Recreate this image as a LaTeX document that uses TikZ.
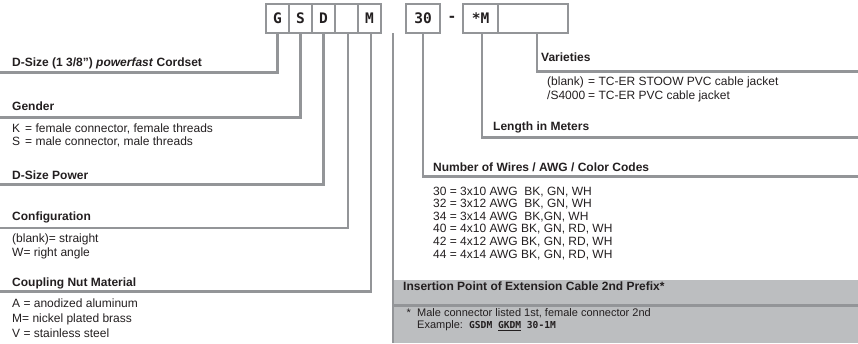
\documentclass[tikz,border=0pt]{standalone}
\usepackage{fontspec}
\setmainfont{Liberation Sans}
\newfontfamily\codefont{DejaVu Sans Mono}
\definecolor{rulegrey}{HTML}{939598}
\definecolor{bandgrey}{HTML}{BCBEC0}
\definecolor{inkgrey}{HTML}{231F20}
\tikzset{
  rule/.style={draw=rulegrey, line width=2.7pt},
  codebox/.style={draw=rulegrey, line width=2.7pt, minimum height=29pt, inner sep=0pt,
    font=\codefont\bfseries\fontsize{14.5}{14.5}\selectfont, text=inkgrey},
  head/.style={anchor=base west, inner sep=0pt, font=\bfseries\fontsize{12}{12}\selectfont, text=inkgrey},
  body/.style={anchor=base west, inner sep=0pt, font=\fontsize{12}{12}\selectfont, text=inkgrey},
  note/.style={anchor=base west, inner sep=0pt, font=\fontsize{11}{11}\selectfont, text=inkgrey},
}
\newcommand{\exmono}[1]{{\codefont\bfseries\fontsize{9.6}{9.6}\selectfont #1}}
\begin{document}
\begin{tikzpicture}[x=1pt,y=-1pt]
\useasboundingbox (0,0) rectangle (858,343);

% grey band of the insertion point
\fill[bandgrey] (392,280) rectangle (858,343);
\draw[rule] (392,305.5) -- (858,305.5);

% code boxes
\node[codebox, minimum width=23pt] (cG) at (277.5,18.5) {G};
\node[codebox, minimum width=23pt] (cS) at (300.5,18.5) {S};
\node[codebox, minimum width=23pt] (cD) at (323.5,18.5) {D};
\node[codebox, minimum width=23pt] (cB) at (346.5,18.5) {};
\node[codebox, minimum width=23pt] (cM) at (369.5,18.5) {M};
\node[codebox, minimum width=34pt] (c30) at (423,18.5) {30};
\node[inner sep=0pt, font=\codefont\bfseries\fontsize{14.5}{14.5}\selectfont, text=inkgrey] (dash) at (452,18.5) {-};
\node[codebox, minimum width=35pt] (cLen) at (480.5,18.5) {*M};
\node[codebox, minimum width=70pt] (cVar) at (533,18.5) {};

% ends of the leaders
\coordinate (eG) at (0,72.3);
\coordinate (eS) at (0,117.3);
\coordinate (eD) at (0,184.7);
\coordinate (eB) at (0,228);
\coordinate (eM) at (0,291.7);
\coordinate (eN) at (858,176.3);
\coordinate (eL) at (858,137.7);
\coordinate (eV) at (858,71.3);
\coordinate (ins) at (393,33);
\coordinate (insEnd) at (393,343);

% leaders
\draw[rule] (cG.south) |- (eG);
\draw[rule] (cS.south) |- (eS);
\draw[rule] (cD.south) |- (eD);
\draw[rule] ([xshift=1.5pt]cB.south) |- (eB);
\draw[rule] ([xshift=1.5pt]cM.south) |- (eM);
\draw[rule] (ins) -- (insEnd);
\draw[rule] (c30.south) |- (eN);
\draw[rule] ([xshift=1.5pt]cLen.south) |- (eL);
\draw[rule] ([xshift=4pt]cVar.south) |- (eV);

% left column
\node[head] (tCord) at (12,66.5) {D-Size (1 3/8") \textit{powerfast} Cordset};
\node[head] (tGen) at (12,110.5) {Gender};
\node[body] (tK) at (12,132.7) {\makebox[13pt][l]{K}= female connector, female threads};
\node[body] (tS) at (12,145.7) {\makebox[13pt][l]{S}= male connector, male threads};
\node[head] (tPow) at (12,179.3) {D-Size Power};
\node[head] (tConf) at (12,220.5) {Configuration};
\node[body] (tStr) at (12,242.7) {(blank)= straight};
\node[body] (tRa) at (12,256) {W= right angle};
\node[head] (tNut) at (12,286.7) {Coupling Nut Material};
\node[body] (tA) at (12,307.3) {A = anodized aluminum};
\node[body] (tMb) at (12,322.3) {M= nickel plated brass};
\node[body] (tV) at (12,337.3) {V = stainless steel};

% right column
\node[head] (tVar) at (541,61.7) {Varieties};
\node[body] (tJk) at (547,85) {\makebox[41pt][l]{(blank)}= TC-ER STOOW PVC cable jacket};
\node[body] (tJs) at (547,99.3) {\makebox[41pt][l]{/S4000}= TC-ER PVC cable jacket};
\node[head] (tLen) at (493,130.7) {Length in Meters};
\node[head] (tWir) at (433,171) {Number of Wires / AWG / Color Codes};
\node[body] (w30) at (433,195) {30 = 3x10 AWG\ \ BK, GN, WH};
\node[body] (w32) at (433,207.7) {32 = 3x12 AWG\ \ BK, GN, WH};
\node[body] (w34) at (433,220.3) {34 = 3x14 AWG\ \ BK,GN, WH};
\node[body] (w40) at (433,232.9) {40 = 4x10 AWG BK, GN, RD, WH};
\node[body] (w42) at (433,245.5) {42 = 4x12 AWG BK, GN, RD, WH};
\node[body] (w44) at (433,258.1) {44 = 4x14 AWG BK, GN, RD, WH};

% insertion point
\node[head] (tIns) at (403,290) {Insertion Point of Extension Cable 2nd Prefix*};
\node[note] (tStar) at (406.5,316) {*};
\node[note] (tMale) at (417,316) {Male connector listed 1st, female connector 2nd};
\node[note] (tEx) at (417,328.5) {Example:\ \ \exmono{GSDM \underline{GKDM} 30-1M}};
\end{tikzpicture}
\end{document}
